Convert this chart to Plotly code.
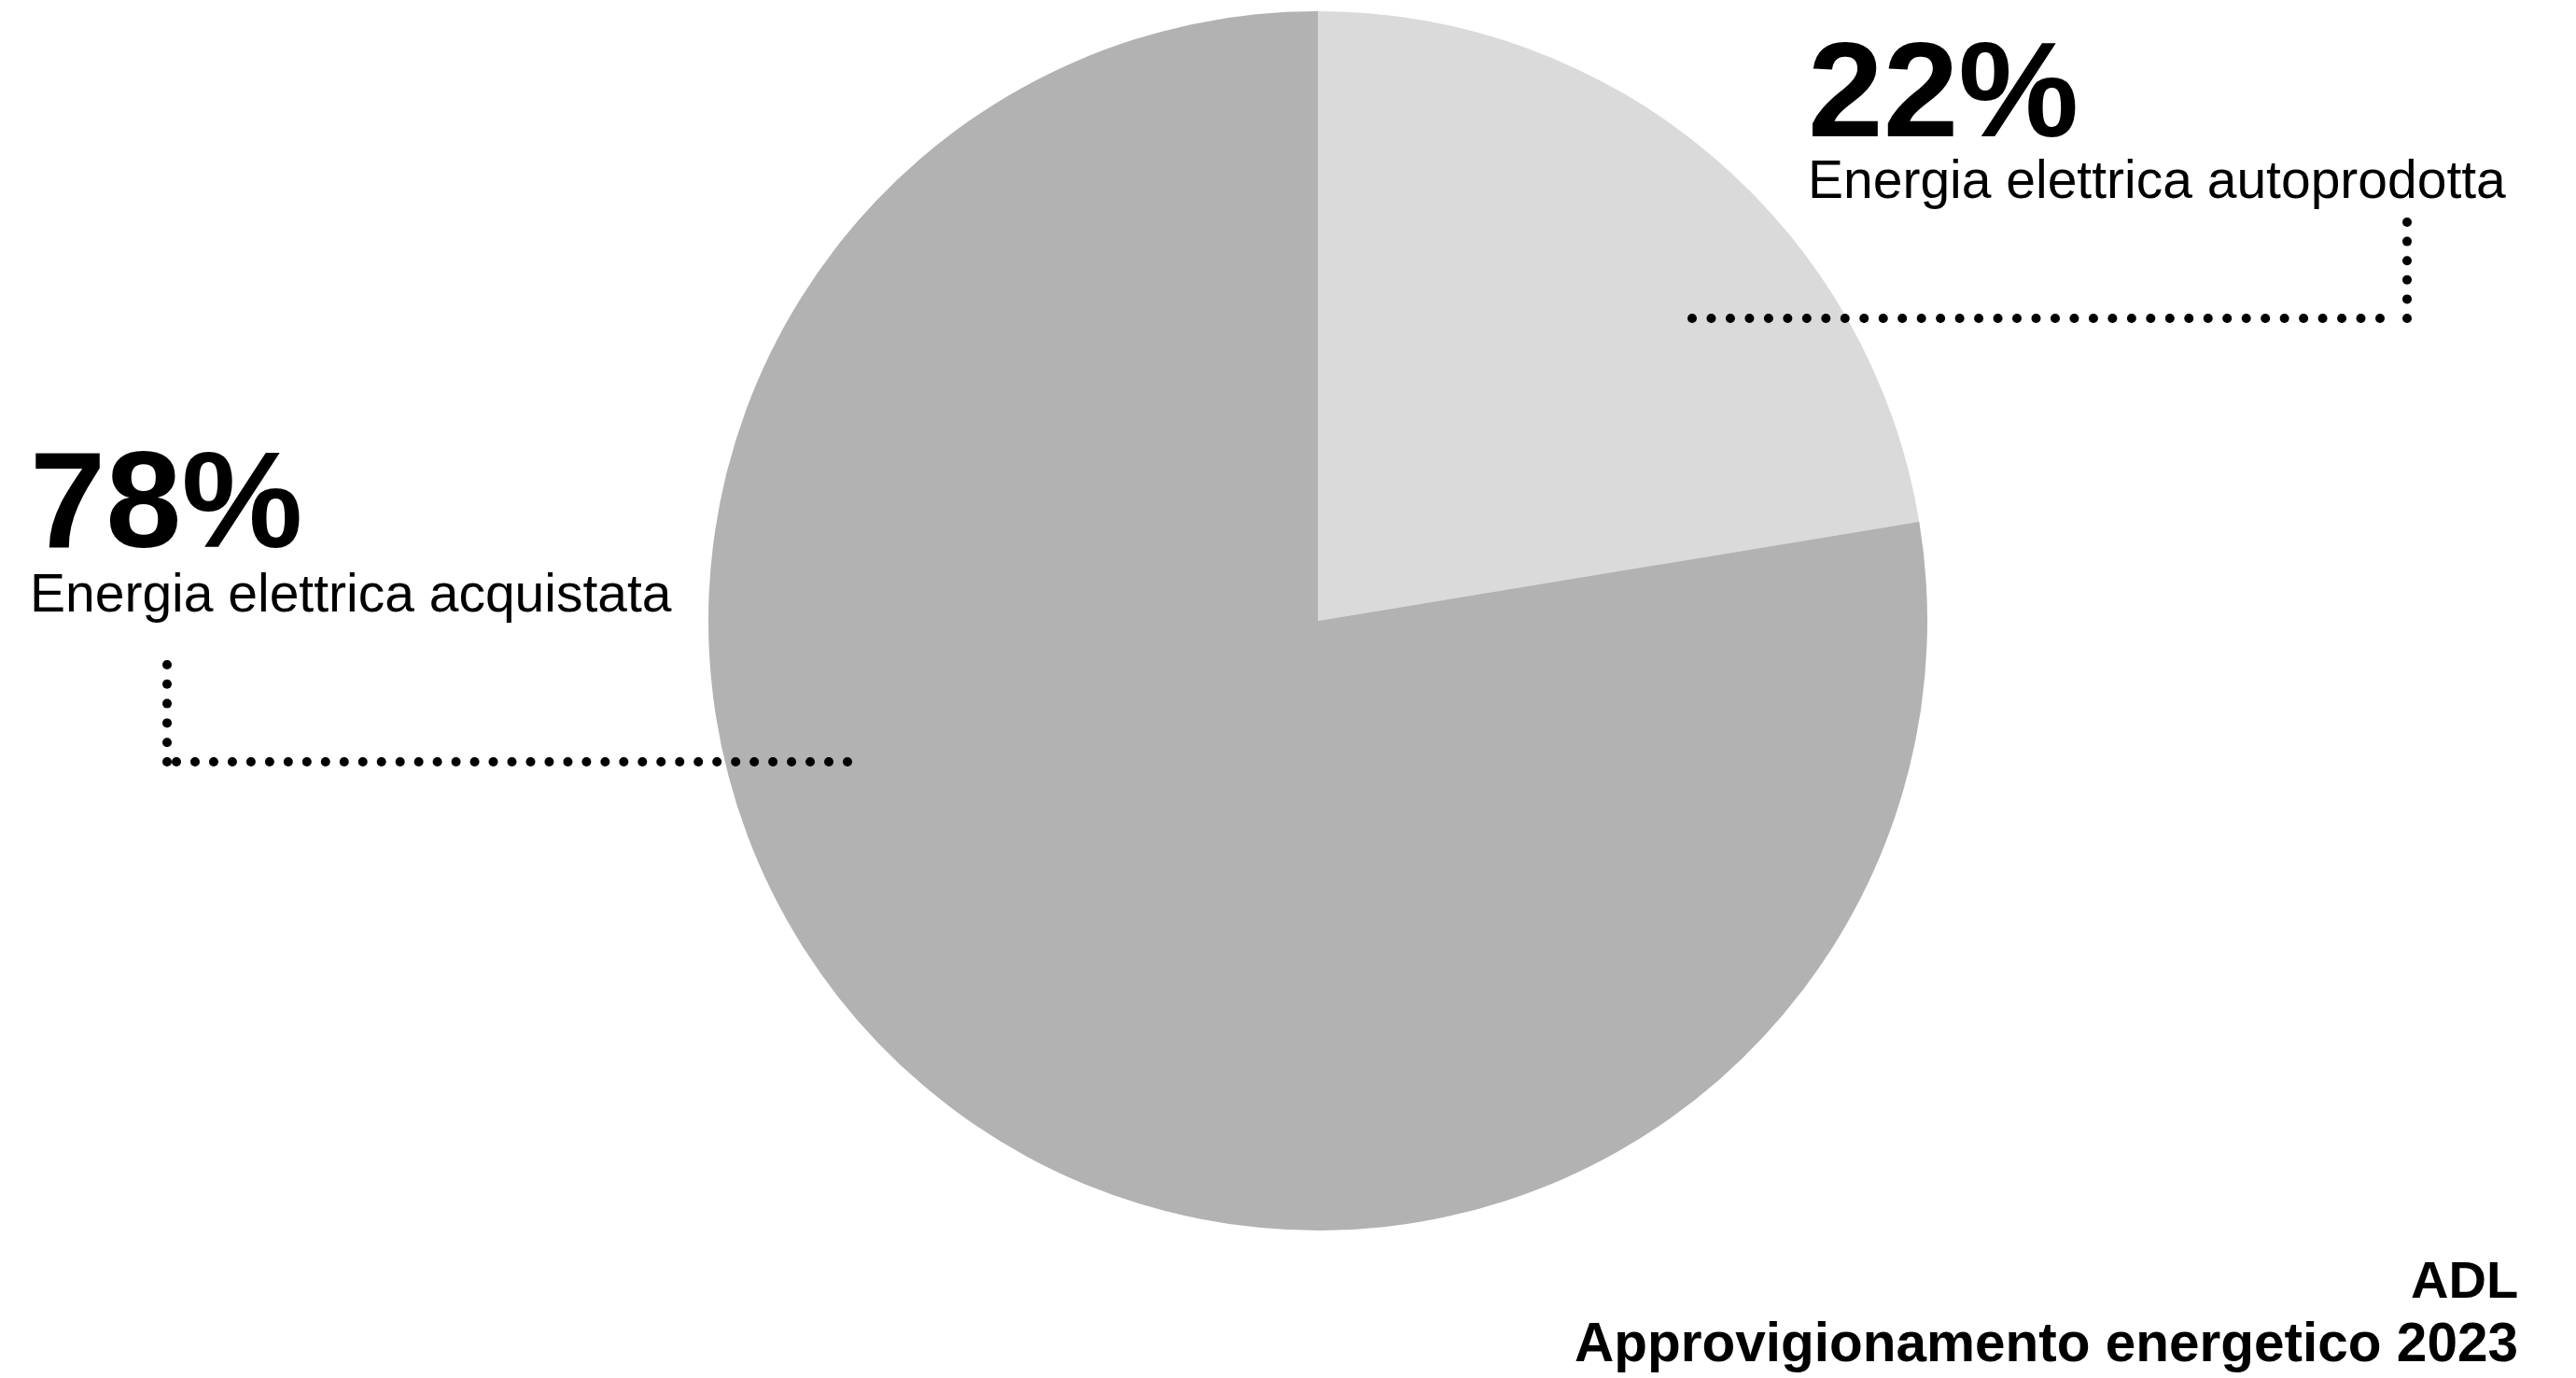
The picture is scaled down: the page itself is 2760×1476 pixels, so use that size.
import numpy as np
import plotly.graph_objects as go

# ---- data ----
categories = ["Energia elettrica autoprodotta", "Energia elettrica acquistata"]
values = [22.4, 77.6]
pct_labels = ["22%", "78%"]
slice_colors = ["#dadada", "#b2b2b2"]
title_lines = ["ADL", "Approvigionamento energetico 2023"]

W, H = 2760, 1476
OFF = 8  # page body margin: the plot div starts 8px into the page
FONT = "Liberation Sans, Arial, sans-serif"

fig = go.Figure()

# pie (domain in paper coords, computed from a pixel box in page coordinates)
cx, cy, r = 1412, 665, 653
fig.add_trace(go.Pie(
    labels=categories, values=values, sort=False, direction="clockwise",
    rotation=0, textinfo="none", hoverinfo="skip", showlegend=False,
    marker=dict(colors=slice_colors, line=dict(width=0)),
    domain=dict(x=[(cx - r - OFF) / W, (cx + r - OFF) / W],
                y=[1 - (cy + r - OFF) / H, 1 - (cy - r - OFF) / H]),
))

# invisible trace so the pixel axes exist
fig.add_trace(go.Scatter(x=[OFF, W], y=[OFF, H], mode="markers", marker=dict(opacity=0),
                         hoverinfo="skip", showlegend=False))

# dotted leader lines (round dots), in page-pixel axis coordinates
leaders = [
    # (x0, y0, x1, y1, n_dots)
    (1813, 341, 2550, 341, 37),
    (2579, 238, 2579, 341, 6),
    (179, 712, 179, 816, 6),
    (189, 816, 908, 816, 37),
]
dot_r = 5
shapes = []
for x0, y0, x1, y1, n in leaders:
    for xx, yy in zip(np.linspace(x0, x1, n), np.linspace(y0, y1, n)):
        shapes.append(dict(type="circle", xref="x", yref="y", layer="above",
                           x0=xx - dot_r, x1=xx + dot_r, y0=yy - dot_r, y1=yy + dot_r,
                           fillcolor="#000000", line=dict(width=0)))


def label_block(pct, cat, x, y, big, small, base):
    txt = (f"<span style='font-size:{big}px'><b>{pct}</b></span><br>"
           f"<span style='font-size:{small}px'>{cat}</span>")
    return dict(text=txt, x=x, y=y, xref="x", yref="y", xanchor="left", yanchor="top",
                align="left", showarrow=False,
                font=dict(family=FONT, size=base, color="#000000"))


def ann(text, x, y, size, bold=False, xanchor="left"):
    return dict(text=f"<b>{text}</b>" if bold else text, x=x, y=y, xref="x", yref="y",
                xanchor=xanchor, yanchor="top", showarrow=False,
                font=dict(family=FONT, size=size, color="#000000"))


annotations = [
    label_block(pct_labels[0], categories[0], 1935, 13, 145, 57, 51),
    label_block(pct_labels[1], categories[1], 30, 452, 146, 57, 53),
    ann(title_lines[0], 2700, 1337, 56, bold=True, xanchor="right"),
    ann(title_lines[1], 2700, 1403, 58.5, bold=True, xanchor="right"),
]

fig.update_layout(
    width=W, height=H, margin=dict(l=0, r=0, t=0, b=0),
    paper_bgcolor="white", plot_bgcolor="rgba(0,0,0,0)",
    xaxis=dict(range=[OFF, W + OFF], visible=False, fixedrange=True, domain=[0, 1]),
    yaxis=dict(range=[H + OFF, OFF], visible=False, fixedrange=True, domain=[0, 1]),
    shapes=shapes, annotations=annotations, showlegend=False,
)

fig.write_html("out.html", config={"displayModeBar": False})
